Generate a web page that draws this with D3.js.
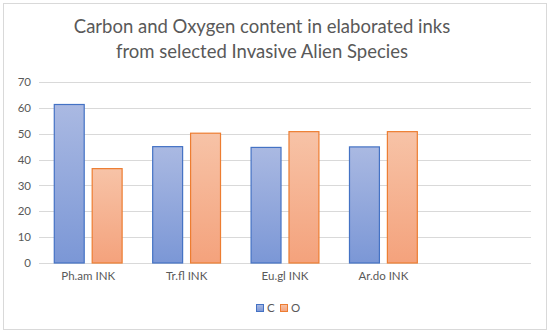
<!DOCTYPE html>
<html>
<head>
<meta charset="utf-8">
<script src="https://cdn.jsdelivr.net/npm/d3@7"></script>
<style>
  body { margin: 0; background: #fff; }
  text { font-family: Lato, "Open Sans", sans-serif; fill: #595959; }
</style>
</head>
<body>
<div id="chart"></div>
<script>
var categories = ["Ph.am INK", "Tr.fl INK", "Eu.gl INK", "Ar.do INK", ""];
var seriesNames = ["C", "O"];
var valuesC = [61.3, 45.0, 44.7, 44.9];
var valuesO = [36.5, 50.2, 50.8, 50.8];
var yTicks = [0, 10, 20, 30, 40, 50, 60, 70];

var width = 550, height = 333;
var margin = { left: 39, right: 19, top: 82, bottom: 70 };

var svg = d3.select("#chart").append("svg")
  .attr("width", width)
  .attr("height", height);

var defs = svg.append("defs");
function grad(id, top, bottom) {
  var g = defs.append("linearGradient").attr("id", id)
    .attr("x1", 0).attr("y1", 0).attr("x2", 0).attr("y2", 1);
  g.append("stop").attr("offset", "0%").attr("stop-color", top);
  g.append("stop").attr("offset", "100%").attr("stop-color", bottom);
}
grad("gC", "#aab9e2", "#7b97d6");
grad("gO", "#f7c3a7", "#f4a27c");

var fills = ["url(#gC)", "url(#gO)"];
var strokes = ["#4472c4", "#ed7d31"];

svg.append("rect")
  .attr("x", 3.5).attr("y", 3.5)
  .attr("width", 543).attr("height", 326)
  .attr("fill", "#fff").attr("stroke", "#d9d9d9");

/* Title */
var title = svg.append("text")
  .attr("text-anchor", "middle")
  .style("font-size", "18.5px");
title.append("tspan").attr("x", 262).attr("y", 33).text("Carbon and Oxygen content in elaborated inks");
title.append("tspan").attr("x", 262).attr("y", 58).text("from selected Invasive Alien Species");

/* Scales */
var x0 = d3.scaleBand()
  .domain(categories)
  .range([margin.left, width - margin.right]);

var x1 = d3.scaleBand()
  .domain(seriesNames)
  .range([0, x0.bandwidth()])
  .paddingInner(0.184)
  .paddingOuter(0.39);

var y = d3.scaleLinear()
  .domain([0, 70])
  .range([height - margin.bottom, margin.top]);

/* Grid */
svg.append("g")
  .selectAll("line")
  .data(yTicks).enter()
  .append("line")
  .attr("x1", margin.left)
  .attr("x2", width - margin.right)
  .attr("y1", d => Math.round(y(d)) + 0.5)
  .attr("y2", d => Math.round(y(d)) + 0.5)
  .attr("stroke", "#d9d9d9");

/* Y axis */
var yAxis = d3.axisLeft(y).tickValues(yTicks).tickSize(0).tickPadding(8);
svg.append("g")
  .attr("transform", `translate(${margin.left}, 0)`)
  .call(yAxis)
  .call(g => g.select(".domain").remove())
  .selectAll("text")
  .style("font-size", "11.5px")
  .attr("fill", "#595959");

/* Bars */
var data = categories.slice(0, 4).map(function(c, i) {
  return { cat: c, vals: [valuesC[i], valuesO[i]] };
});

svg.append("g")
  .selectAll("g")
  .data(data).enter()
  .append("g")
  .attr("transform", d => `translate(${x0(d.cat)}, 0)`)
  .selectAll("rect")
  .data(d => d.vals.map((v, j) => ({ key: seriesNames[j], v: v, j: j }))).enter()
  .append("rect")
  .attr("x", d => x1(d.key) + 0.5)
  .attr("y", d => y(d.v))
  .attr("width", x1.bandwidth() - 1)
  .attr("height", d => y(0) - y(d.v))
  .attr("fill", d => fills[d.j])
  .attr("stroke", d => strokes[d.j])
  .attr("stroke-width", 1.2);

/* X axis labels */
var xAxis = d3.axisBottom(x0).tickSize(0).tickPadding(9);
svg.append("g")
  .attr("transform", `translate(0, ${y(0)})`)
  .call(xAxis)
  .call(g => g.select(".domain").remove())
  .selectAll("text")
  .style("font-size", "11.5px")
  .attr("fill", "#595959");

/* Legend */
var legend = svg.append("g").attr("transform", "translate(256, 304)");
var legendX = [0, 24];
seriesNames.forEach(function(s, i) {
  legend.append("rect")
    .attr("x", legendX[i] + 0.5).attr("y", 0.5)
    .attr("width", 7).attr("height", 7)
    .attr("fill", fills[i]).attr("stroke", strokes[i]);
  legend.append("text")
    .attr("x", legendX[i] + 11).attr("y", 8)
    .style("font-size", "11.5px")
    .text(s);
});
</script>
</body>
</html>
